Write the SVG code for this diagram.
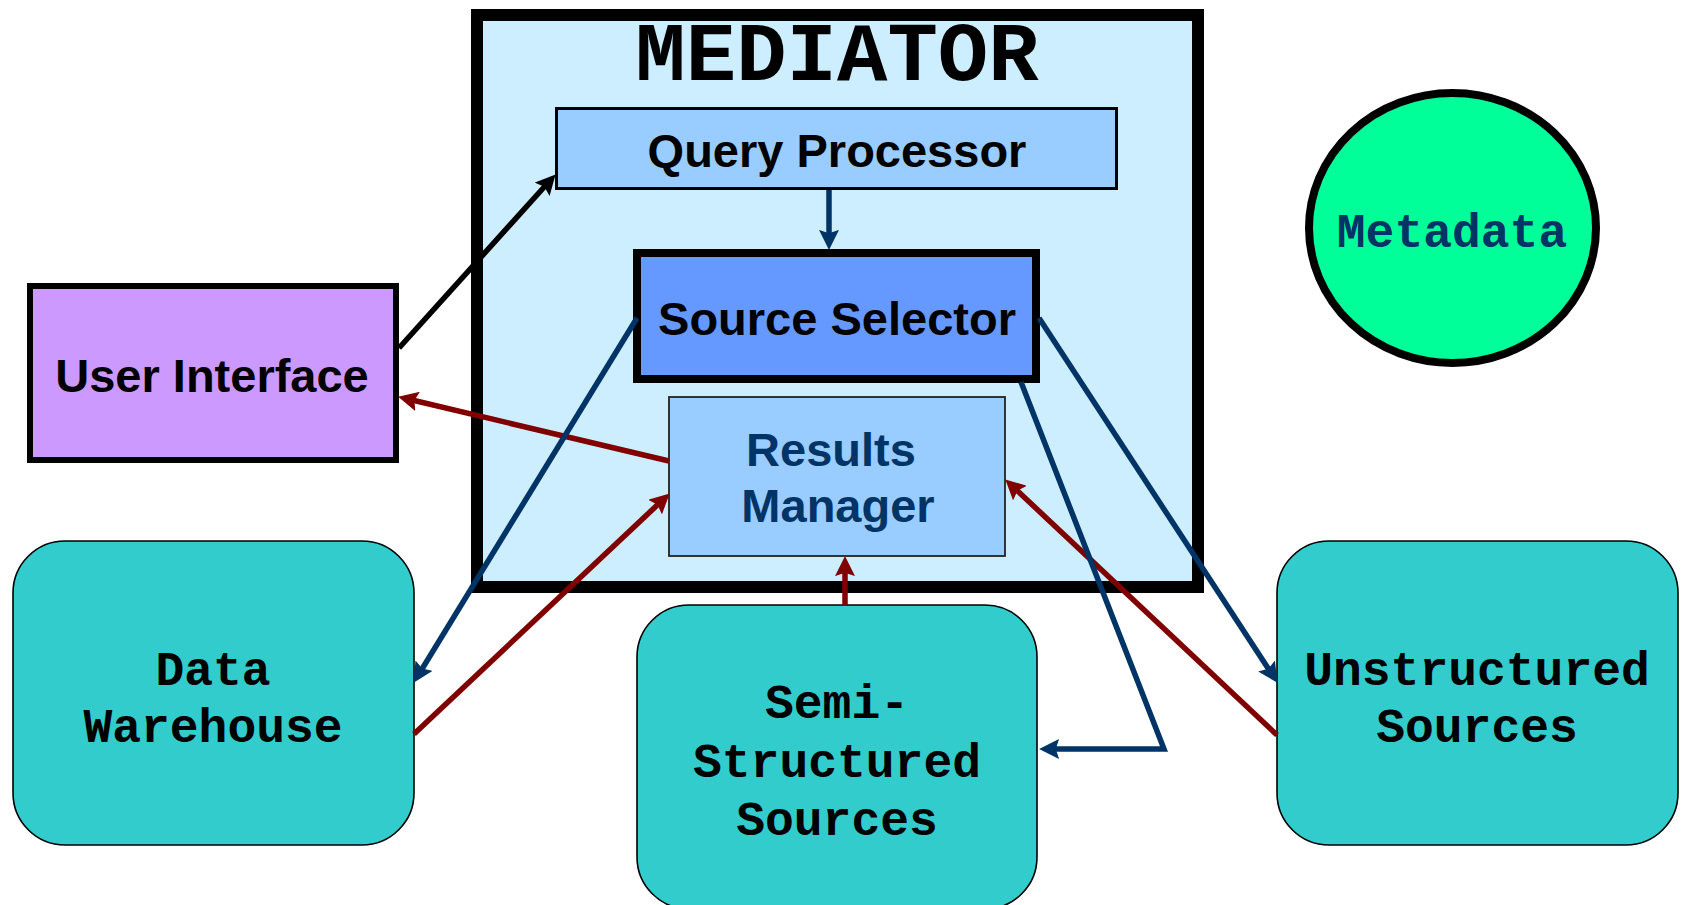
<svg xmlns="http://www.w3.org/2000/svg" width="1681" height="905" viewBox="0 0 1681 905">
<defs>
<style>
.sans{font-family:"Liberation Sans",Arial,sans-serif;font-weight:bold;font-size:47px;text-anchor:middle}
.mono{font-family:"Liberation Mono","Courier New",monospace;font-weight:bold;font-size:48px;text-anchor:middle}
.src{fill:#33cccc;stroke:#000;stroke-width:1.6}
.c{fill:none;stroke-width:5.5;stroke-linejoin:miter}
.navy{stroke:#003366}
.red{stroke:#800000}
.blk{stroke:#000}
</style>
<marker id="aNavy" markerUnits="userSpaceOnUse" markerWidth="20" markerHeight="20" refX="10" refY="9" orient="auto" viewBox="0 0 18 18"><path d="M0,0 L18,9 L0,18 L3,9 z" fill="#003366"/></marker>
<marker id="aRed" markerUnits="userSpaceOnUse" markerWidth="20" markerHeight="20" refX="10" refY="9" orient="auto" viewBox="0 0 18 18"><path d="M0,0 L18,9 L0,18 L3,9 z" fill="#800000"/></marker>
<marker id="aBlk" markerUnits="userSpaceOnUse" markerWidth="20" markerHeight="20" refX="10" refY="9" orient="auto" viewBox="0 0 18 18"><path d="M0,0 L18,9 L0,18 L3,9 z" fill="#000"/></marker>
</defs>
<rect width="1681" height="905" fill="#fff"/>
<g id="mediator">
<rect x="477" y="15" width="721" height="572" fill="#cdeeff" stroke="#000" stroke-width="12"/>
<text x="837" y="80" font-family="'Liberation Mono','Courier New',monospace" font-weight="bold" font-size="84" text-anchor="middle">MEDIATOR</text>
</g>
<g id="query-processor">
<rect x="556.5" y="108.5" width="560" height="80" fill="#99ccff" stroke="#000" stroke-width="3"/>
<text class="sans" x="837" y="167">Query Processor</text>
</g>
<g id="source-selector">
<rect x="637" y="253" width="399" height="126" fill="#6699ff" stroke="#000" stroke-width="8"/>
<text class="sans" x="837" y="335">Source Selector</text>
</g>
<g id="results-manager">
<rect x="669" y="397" width="336" height="159" fill="#99ccff" stroke="#222" stroke-width="1.8"/>
<text class="sans" x="831" y="466" fill="#003366">Results</text>
<text class="sans" x="838" y="522" fill="#003366">Manager</text>
</g>
<g id="user-interface">
<rect x="30" y="286" width="366" height="174" fill="#cc99ff" stroke="#000" stroke-width="6"/>
<text class="sans" x="212" y="392">User Interface</text>
</g>
<g id="metadata">
<ellipse cx="1452.5" cy="228" rx="143.5" ry="135" fill="#00ff99" stroke="#000" stroke-width="8"/>
<text class="mono" x="1452" y="247" fill="#003366">Metadata</text>
</g>
<g id="data-warehouse">
<rect class="src" x="13" y="541" width="401" height="304" rx="52" ry="52"/>
<text class="mono" x="213" y="685">Data</text>
<text class="mono" x="213" y="742">Warehouse</text>
</g>
<g id="semi-structured-sources">
<rect class="src" x="637" y="605" width="400" height="304" rx="52" ry="52"/>
<text class="mono" x="837" y="718">Semi-</text>
<text class="mono" x="837" y="777">Structured</text>
<text class="mono" x="837" y="835">Sources</text>
</g>
<g id="unstructured-sources">
<rect class="src" x="1277" y="541" width="401" height="304" rx="52" ry="52"/>
<text class="mono" x="1477" y="685">Unstructured</text>
<text class="mono" x="1477" y="742">Sources</text>
</g>
<g id="connectors">
<path class="c blk" d="M399,348 L549.6,181" marker-end="url(#aBlk)"/>
<path class="c navy" d="M829,190 L829,241" marker-end="url(#aNavy)"/>
<path class="c red" d="M669,461 L406.8,398.8" marker-end="url(#aRed)"/>
<path class="c red" d="M414,734 L663.2,499.5" marker-end="url(#aRed)"/>
<path class="c navy" d="M637,318 L418.2,675.2" marker-end="url(#aNavy)"/>
<path class="c red" d="M845,606 L845,565" marker-end="url(#aRed)"/>
<path class="c navy" d="M1039,318 L1272.6,675.3" marker-end="url(#aNavy)"/>
<path class="c red" d="M1277,735 L1011.8,485.5" marker-end="url(#aRed)"/>
<path class="c navy" d="M1021,382 L1164,749 L1048,749" marker-end="url(#aNavy)"/>
</g>
</svg>
